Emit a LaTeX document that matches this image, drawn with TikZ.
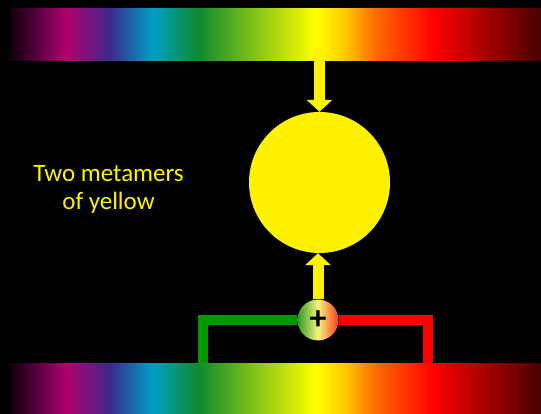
\documentclass[tikz,border=0pt]{standalone}
\usepackage{fontspec}
\setmainfont{Carlito}
\usetikzlibrary{arrows.meta}

\definecolor{sp0}{HTML}{0A0008}
\definecolor{sp1}{HTML}{50003A}
\definecolor{sp2}{HTML}{B0006E}
\definecolor{sp3}{HTML}{3B2A8C}
\definecolor{sp4}{HTML}{009FC6}
\definecolor{sp5}{HTML}{0F8A2E}
\definecolor{sp6}{HTML}{FFFF00}
\definecolor{sp7}{HTML}{FFC800}
\definecolor{sp8}{HTML}{FF6A00}
\definecolor{sp9}{HTML}{FF0000}
\definecolor{sp10}{HTML}{A80000}
\definecolor{sp11}{HTML}{480000}
\definecolor{wiregreen}{HTML}{009900}
\definecolor{plusgreen}{HTML}{2F9A2A}
\definecolor{plusmid}{HTML}{F5F57A}
\definecolor{plusred}{HTML}{FF3A1A}

\pgfdeclarehorizontalshading{spectrum}{100bp}{color(0bp)=(sp0); color(25bp)=(sp0);
  color(27.35bp)=(sp1); color(30.45bp)=(sp2); color(34.49bp)=(sp3); color(38.53bp)=(sp4);
  color(42.76bp)=(sp5); color(53.85bp)=(sp6); color(56.58bp)=(sp7); color(59.49bp)=(sp8);
  color(64.85bp)=(sp9); color(69.55bp)=(sp10); color(75bp)=(sp11); color(100bp)=(sp11)}

\begin{document}
\begin{tikzpicture}[
    x=1pt, y=-1pt,
    band/.style={rectangle, shading=spectrum, minimum width=532pt, minimum height=52pt, inner sep=0pt},
    yarrow/.style={draw=yellow, line width=11pt, -{Triangle[width=25pt, length=12pt]}},
    wire/.style={line width=10pt}
]
    \useasboundingbox (0,0) rectangle (541,414);
    \fill[black] (0,0) rectangle (541,414);

    % Nodes
    \node (top) [band] at (275,35) {};
    \node (bottom) [band, minimum height=51pt] at (275,388.5) {};
    \node (mix) [circle, fill=yellow, minimum size=141pt, inner sep=0pt] at (319.5,182.5) {};
    \node (plus) [circle, minimum size=41pt, inner sep=0pt, left color=plusgreen, right color=plusred, middle color=plusmid,
        font=\fontsize{34}{34}\selectfont\bfseries] at (318,320) {+};
    \node (label) [text=yellow, align=center, font=\fontsize{25}{28}\selectfont] at (108.5,189) {Two metamers\\of yellow};

    \coordinate (src) at (319.5,48);
    \coordinate (gfoot) at (203,363);
    \coordinate (rfoot) at (428,363);

    % Connections
    \draw [yarrow] (src) -- (mix);
    \draw [yarrow] (plus) -- (plus |- mix.south);
    \draw [wire, draw=wiregreen] (plus) -| (gfoot);
    \draw [wire, draw=red] (plus) -| (rfoot);
\end{tikzpicture}
\end{document}
